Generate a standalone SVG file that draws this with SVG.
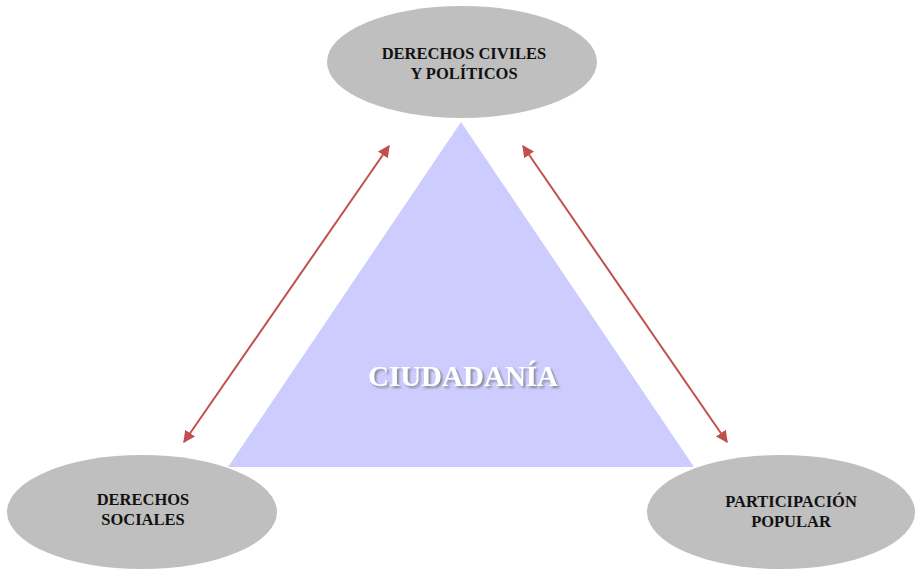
<svg xmlns="http://www.w3.org/2000/svg" width="915" height="570" viewBox="0 0 915 570">
<style>
.node ellipse{fill:#bfbfbf;stroke:none}
.lbl{font-family:"Liberation Serif","Times New Roman",serif;font-weight:bold;font-size:16.5px;fill:#111;text-anchor:middle}
.title{font-family:"Liberation Serif","Times New Roman",serif;font-weight:bold;font-size:29px;fill:#ffffff;text-anchor:middle;filter:url(#sh)}
.conn line{stroke:#c0504d;stroke-width:2;marker-start:url(#ah);marker-end:url(#ah)}
</style>
<defs>
<marker id="ah" viewBox="0 0 10 10" refX="9" refY="5" markerWidth="6" markerHeight="6" orient="auto-start-reverse" markerUnits="strokeWidth">
<path d="M0,0 L10,5 L0,10 z" fill="#c0504d"/>
</marker>
<filter id="sh" x="-10%" y="-30%" width="120%" height="160%">
<feDropShadow dx="2" dy="2" stdDeviation="1" flood-color="#777" flood-opacity="0.8"/>
</filter>
</defs>
<rect width="915" height="570" fill="#ffffff"/>
<g id="ciudadania">
<polygon points="461,122 228,467 694,467" fill="#ccccff"/>
<text class="title" x="463" y="386">CIUDADANÍA</text>
</g>
<g id="civiles" class="node">
<ellipse cx="462" cy="62" rx="135" ry="56"/>
<text class="lbl" x="464" y="59">DERECHOS CIVILES</text>
<text class="lbl" x="464" y="79">Y POLÍTICOS</text>
</g>
<g id="sociales" class="node">
<ellipse cx="142" cy="512" rx="135" ry="57"/>
<text class="lbl" x="143" y="505">DERECHOS</text>
<text class="lbl" x="143" y="525">SOCIALES</text>
</g>
<g id="participacion" class="node">
<ellipse cx="781" cy="512" rx="134" ry="57"/>
<text class="lbl" x="791" y="507">PARTICIPACIÓN</text>
<text class="lbl" x="791" y="527">POPULAR</text>
</g>
<g id="connectors" class="conn">
<line x1="184" y1="442" x2="389" y2="146"/>
<line x1="523" y1="146" x2="727" y2="442"/>
</g>
</svg>
